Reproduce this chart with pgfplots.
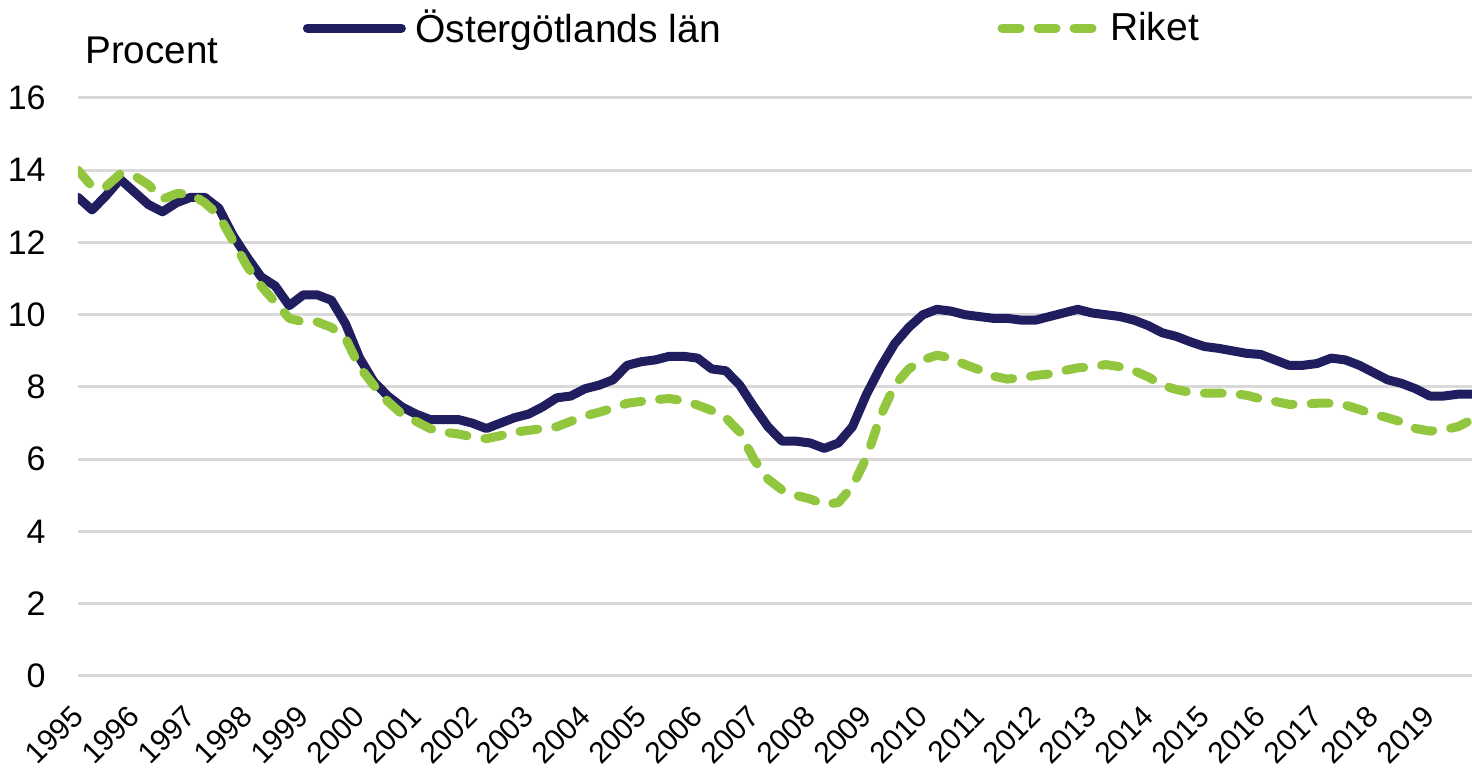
\documentclass[border=0pt]{standalone}
\usepackage{fontspec}
\setmainfont{Liberation Sans}
\usepackage{pgfplots}
\pgfplotsset{compat=1.18}

\definecolor{navy}{RGB}{32,30,94}
\definecolor{lgreen}{RGB}{146,198,62}
\definecolor{gridgray}{RGB}{217,217,217}

% quarterly values, 1995Q1 -- 2019Q4
\pgfplotstableread{
x       ost     riket
1995.00 13.25 14.00
1995.25 12.90 13.55
1995.50 13.30 13.55
1995.75 13.75 13.90
1996.00 13.40 13.85
1996.25 13.05 13.60
1996.50 12.85 13.20
1996.75 13.10 13.35
1997.00 13.25 13.35
1997.25 13.25 13.10
1997.50 12.95 12.75
1997.75 12.20 12.05
1998.00 11.60 11.35
1998.25 11.05 10.80
1998.50 10.80 10.35
1998.75 10.25 9.90
1999.00 10.55 9.80
1999.25 10.55 9.80
1999.50 10.40 9.65
1999.75 9.75 9.35
2000.00 8.80 8.55
2000.25 8.15 8.05
2000.50 7.75 7.60
2000.75 7.45 7.25
2001.00 7.25 7.05
2001.25 7.10 6.85
2001.50 7.10 6.75
2001.75 7.10 6.70
2002.00 7.00 6.62
2002.25 6.85 6.57
2002.50 7.00 6.65
2002.75 7.15 6.75
2003.00 7.25 6.80
2003.25 7.45 6.85
2003.50 7.70 6.90
2003.75 7.75 7.05
2004.00 7.95 7.20
2004.25 8.05 7.30
2004.50 8.20 7.42
2004.75 8.60 7.55
2005.00 8.70 7.60
2005.25 8.75 7.65
2005.50 8.85 7.68
2005.75 8.85 7.62
2006.00 8.80 7.50
2006.25 8.50 7.35
2006.50 8.45 7.15
2006.75 8.05 6.75
2007.00 7.45 6.00
2007.25 6.90 5.45
2007.50 6.50 5.15
2007.75 6.50 5.00
2008.00 6.45 4.90
2008.25 6.30 4.75
2008.50 6.45 4.80
2008.75 6.90 5.25
2009.00 7.80 6.05
2009.25 8.55 7.20
2009.50 9.20 8.05
2009.75 9.65 8.50
2010.00 10.00 8.75
2010.25 10.15 8.88
2010.50 10.10 8.80
2010.75 10.00 8.62
2011.00 9.95 8.48
2011.25 9.90 8.30
2011.50 9.90 8.22
2011.75 9.85 8.25
2012.00 9.85 8.32
2012.25 9.95 8.36
2012.50 10.05 8.45
2012.75 10.15 8.53
2013.00 10.05 8.56
2013.25 10.00 8.62
2013.50 9.95 8.56
2013.75 9.85 8.45
2014.00 9.70 8.28
2014.25 9.50 8.05
2014.50 9.40 7.93
2014.75 9.25 7.85
2015.00 9.12 7.83
2015.25 9.07 7.83
2015.50 9.00 7.82
2015.75 8.93 7.77
2016.00 8.90 7.67
2016.25 8.75 7.60
2016.50 8.60 7.52
2016.75 8.60 7.52
2017.00 8.65 7.55
2017.25 8.80 7.55
2017.50 8.75 7.50
2017.75 8.60 7.38
2018.00 8.40 7.25
2018.25 8.20 7.15
2018.50 8.10 7.03
2018.75 7.95 6.85
2019.00 7.75 6.78
2019.25 7.75 6.82
2019.50 7.80 6.90
2019.75 7.80 7.10
}\datatable

\begin{document}
\begin{tikzpicture}
\begin{axis}[
    scale only axis,
    width=697pt, height=289pt,
    xmin=1995, xmax=2019.75,
    ymin=0, ymax=16,
    xtick={1995,...,2019},
    ytick={0,2,...,16},
    ymajorgrids,
    major grid style={draw=gridgray, line width=1.5pt},
    axis line style={draw=none},
    major tick length=0pt,
    tick style={draw=none},
    /pgf/number format/assume math mode=true,
    /pgf/number format/1000 sep={},
    yticklabel style={font=\fontsize{17}{20}\selectfont, inner sep=0pt},
    yticklabel shift=16pt,
    xticklabel style={font=\fontsize{15}{18}\selectfont, inner sep=0pt, rotate=45, anchor=east},
    xticklabel shift=17.5pt,
    legend columns=2,
    legend style={at={(0.1578,1.121)}, anchor=west, draw=none, fill=none,
        inner sep=0pt, nodes={inner sep=0pt},
        font=\fontsize{19.5}{22}\selectfont,
        /tikz/every odd column/.append style={column sep=2.5pt},
        /tikz/every even column/.append style={column sep=136pt}},
    legend image code/.code={\path (0pt,0pt) (51.5pt,0pt); \draw[#1] (2.25pt,0pt) -- (49.25pt,0pt);},
    clip mode=individual,
]
\addplot[navy, line width=4.5pt, line join=round, line cap=round] table[x=x, y=ost] {\datatable};
\addplot[lgreen, line width=4.5pt, line join=round, line cap=round, dash pattern=on 9pt off 9pt] table[x=x, y=riket] {\datatable};
\legend{Östergötlands län, Riket}
\node[anchor=west, inner sep=0pt, font=\fontsize{19.3}{22}\selectfont] at ([xshift=3.5pt]rel axis cs:0,1.083) {Procent};
\end{axis}
\pgfresetboundingbox
\path[use as bounding box] (-39pt,-49pt) rectangle (697pt,338pt);
\end{tikzpicture}
\end{document}
